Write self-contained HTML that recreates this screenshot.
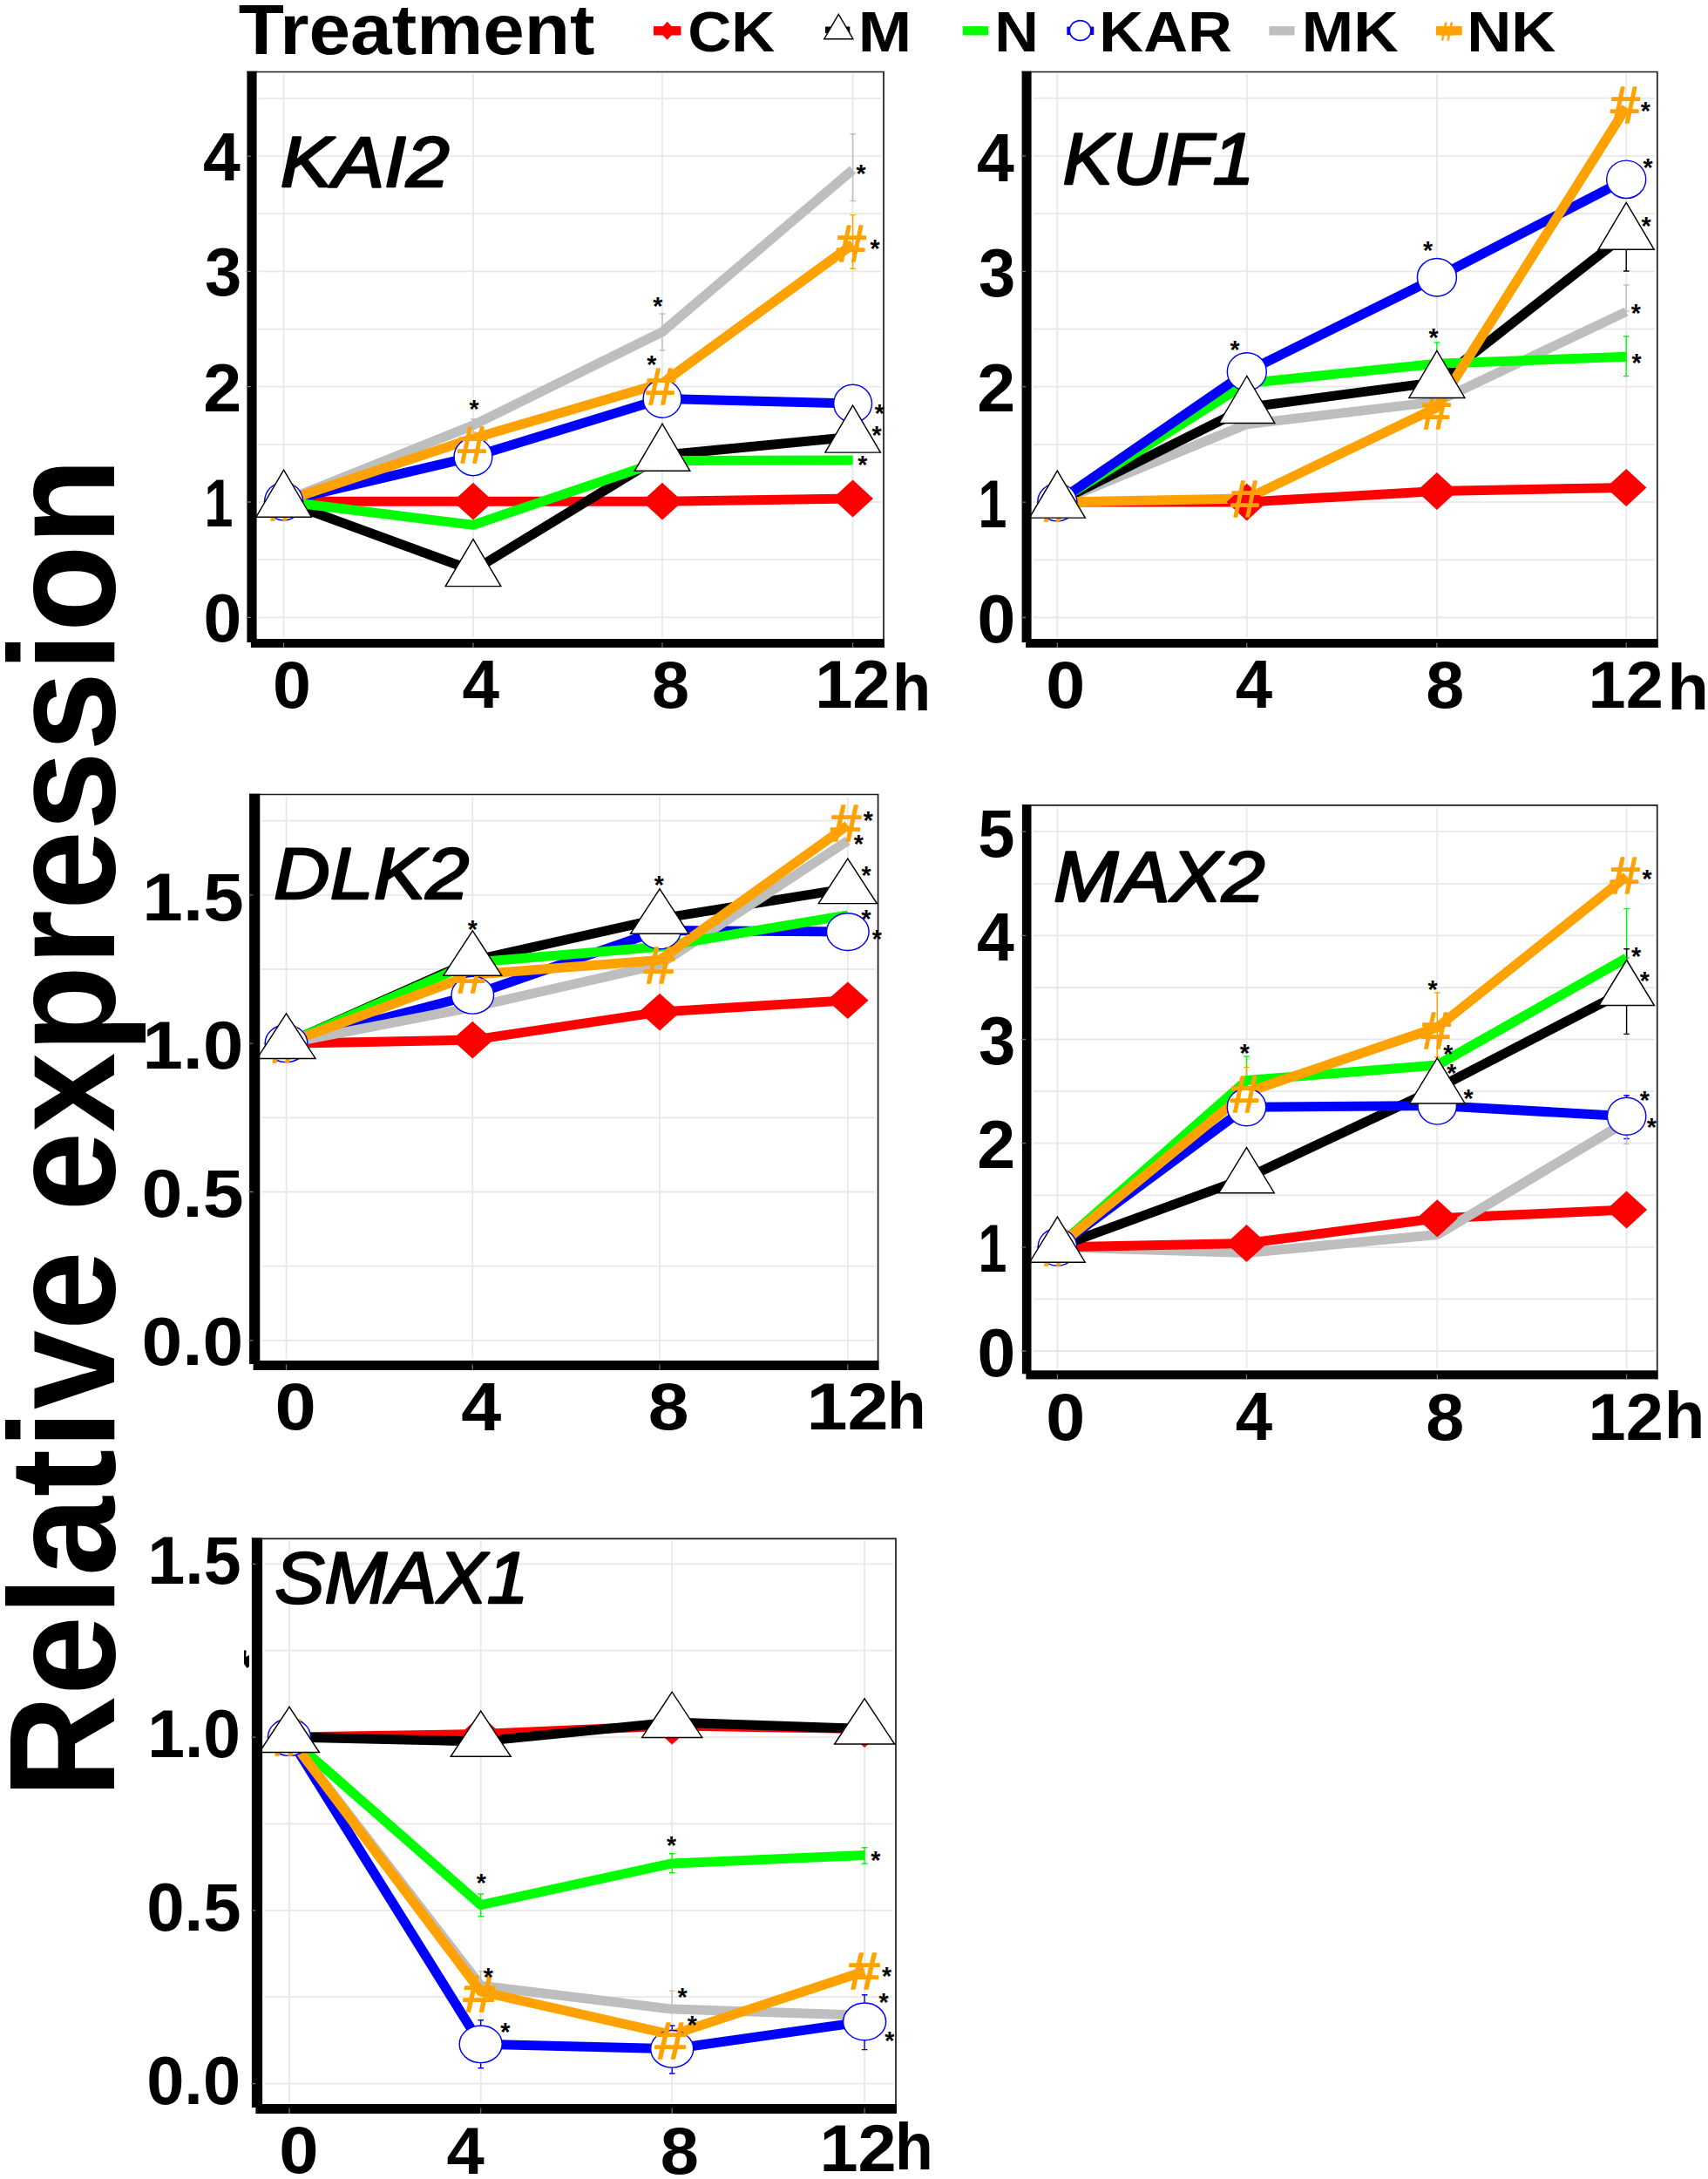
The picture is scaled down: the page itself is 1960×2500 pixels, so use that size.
<!DOCTYPE html><html><head><meta charset="utf-8"><title>Relative expression</title><style>html,body{margin:0;padding:0;background:#fff}svg{display:block}text{font-family:"Liberation Sans",sans-serif}</style></head><body>
<svg width="1960" height="2500" viewBox="0 0 1960 2500">
<rect width="1960" height="2500" fill="#fff"/>
<text transform="translate(131.4,2063.1) rotate(-90) scale(0.9464,1)" font-size="173" font-weight="bold">Relative expression</text>
<text transform="translate(273.74,62.40) scale(1.0407,1)" font-size="82.18" font-weight="bold">Treatment</text>
<line x1="750" x2="781.5" y1="35.3" y2="35.3" stroke="#ff0000" stroke-width="10.4"/>
<polygon points="765.7,24.8 775.2,35.3 765.7,45.8 756.2,35.3" fill="#ff0000"/>
<text transform="translate(789.23,59.00) scale(1.0569,1)" font-size="65.52" font-weight="bold">CK</text>
<line x1="947" x2="975.3" y1="34.3" y2="34.3" stroke="#000000" stroke-width="7.6"/>
<polygon points="962.3,16.4 945.8,44.7 978.9,44.7" fill="#fff" stroke="#000" stroke-width="1.5"/>
<text transform="translate(984.82,59.00) scale(1.1262,1)" font-size="65.45" font-weight="bold">M</text>
<line x1="1104.8" x2="1134.2" y1="35.3" y2="35.3" stroke="#00ff00" stroke-width="10.4"/>
<text transform="translate(1141.27,59.00) scale(1.0714,1)" font-size="65.45" font-weight="bold">N</text>
<line x1="1224.3" x2="1255.3" y1="35.3" y2="35.3" stroke="#0000ff" stroke-width="9.5"/>
<ellipse cx="1239.6" cy="35.0" rx="12.2" ry="11.4" fill="#fff" stroke="#0000ff" stroke-width="1.6"/>
<text transform="translate(1261.24,59.00) scale(1.0773,1)" font-size="65.45" font-weight="bold">KAR</text>
<line x1="1456.4" x2="1485.6" y1="35.3" y2="35.3" stroke="#bebebe" stroke-width="10.4"/>
<text transform="translate(1493.78,59.00) scale(1.0899,1)" font-size="65.45" font-weight="bold">MK</text>
<line x1="1647.8" x2="1677.7" y1="35.3" y2="35.3" stroke="#ffa200" stroke-width="10.4"/>
<text transform="translate(1652.86,45.80) scale(0.9958,1)" font-size="28.61" fill="#ffa200" stroke="#ffa200" stroke-width="0.9" stroke-linejoin="round">#</text>
<text transform="translate(1683.22,59.00) scale(1.0815,1)" font-size="65.45" font-weight="bold">NK</text>
<path d="M296.6,708.3H1011.0M296.6,642.1H1011.0M296.6,576.0H1011.0M296.6,509.8H1011.0M296.6,443.7H1011.0M296.6,377.6H1011.0M296.6,311.4H1011.0M296.6,245.2H1011.0M296.6,179.1H1011.0M296.6,112.9H1011.0M325.6,85.0V731.0M543.0,85.0V731.0M760.0,85.0V731.0M978.6,85.0V731.0" stroke="#e8e8e8" stroke-width="1.8" fill="none"/>
<path d="M283.4,82.5H1014V743" fill="none" stroke="#1a1a1a" stroke-width="1.7"/>
<path d="M978.6,153.7V230.5M975.4,153.7h6.5M975.4,230.5h6.5" stroke="#bebebe" stroke-width="1.4" fill="none"/>
<path d="M978.6,246.6V308.2M975.4,246.6h6.5M975.4,308.2h6.5" stroke="#ffa200" stroke-width="1.4" fill="none"/>
<path d="M760.0,360.0V402.0M756.8,360.0h6.5M756.8,402.0h6.5" stroke="#bebebe" stroke-width="1.4" fill="none"/>
<path d="M543.0,481.0V496.0M539.8,481.0h6.5M539.8,496.0h6.5" stroke="#bebebe" stroke-width="1.4" fill="none"/>
<polyline points="325.6,575.2 543.0,575.2 760.0,575.2 978.6,572.0" fill="none" stroke="#ff0000" stroke-width="11" stroke-linejoin="round"/>
<polyline points="325.6,575.2 543.0,654.6 760.0,522.3 978.6,501.1" fill="none" stroke="#000000" stroke-width="11" stroke-linejoin="round"/>
<polyline points="325.6,575.2 543.0,524.0 760.0,457.5 978.6,463.0" fill="none" stroke="#0000ff" stroke-width="11" stroke-linejoin="round"/>
<polyline points="325.6,575.2 543.0,487.9 760.0,380.7 978.6,194.7" fill="none" stroke="#bebebe" stroke-width="11" stroke-linejoin="round"/>
<polyline points="325.6,575.2 543.0,602.3 760.0,528.6 978.6,528.0" fill="none" stroke="#00ff00" stroke-width="11" stroke-linejoin="round"/>
<polyline points="325.6,575.2 543.0,503.0 760.0,439.6 978.6,280.2" fill="none" stroke="#ffa200" stroke-width="11" stroke-linejoin="round"/>
<polygon points="325.6,553.8 348.9,575.2 325.6,596.6 302.3,575.2" fill="#ff0000"/>
<polygon points="543.0,553.8 566.3,575.2 543.0,596.6 519.7,575.2" fill="#ff0000"/>
<polygon points="760.0,553.8 783.3,575.2 760.0,596.6 736.7,575.2" fill="#ff0000"/>
<polygon points="978.6,550.6 1001.9,572.0 978.6,593.4 955.3,572.0" fill="#ff0000"/>
<ellipse cx="325.6" cy="575.2" rx="21.9" ry="21.7" fill="#fff" stroke="#0000ff" stroke-width="1.45"/>
<ellipse cx="543.0" cy="524.0" rx="21.9" ry="21.7" fill="#fff" stroke="#0000ff" stroke-width="1.45"/>
<ellipse cx="760.0" cy="457.5" rx="21.9" ry="21.7" fill="#fff" stroke="#0000ff" stroke-width="1.45"/>
<ellipse cx="978.6" cy="463.0" rx="21.9" ry="21.7" fill="#fff" stroke="#0000ff" stroke-width="1.45"/>
<text transform="translate(307.40,596.65) scale(1.0034,1)" font-size="59.71" fill="#ffa200" stroke="#ffa200" stroke-width="1.7" stroke-linejoin="round">#</text>
<text transform="translate(525.50,531.45) scale(1.0034,1)" font-size="59.71" fill="#ffa200" stroke="#ffa200" stroke-width="1.7" stroke-linejoin="round">#</text>
<text transform="translate(741.60,463.75) scale(1.0034,1)" font-size="59.71" fill="#ffa200" stroke="#ffa200" stroke-width="1.7" stroke-linejoin="round">#</text>
<text transform="translate(960.30,300.45) scale(1.0034,1)" font-size="59.71" fill="#ffa200" stroke="#ffa200" stroke-width="1.7" stroke-linejoin="round">#</text>
<polygon points="325.6,539.2 293.9,593.2 357.4,593.2" fill="#fff" stroke="#000" stroke-width="1.45"/>
<polygon points="543.0,618.6 511.2,672.6 574.8,672.6" fill="#fff" stroke="#000" stroke-width="1.45"/>
<polygon points="760.0,486.3 728.2,540.3 791.8,540.3" fill="#fff" stroke="#000" stroke-width="1.45"/>
<polygon points="978.6,465.1 946.9,519.1 1010.4,519.1" fill="#fff" stroke="#000" stroke-width="1.45"/>
<text transform="translate(742.23,428.20) scale(0.9675,1)" font-size="29.53" font-weight="bold">*</text>
<text transform="translate(1003.83,484.40) scale(0.9675,1)" font-size="29.53" font-weight="bold">*</text>
<text transform="translate(1000.43,508.80) scale(0.9675,1)" font-size="29.53" font-weight="bold">*</text>
<text transform="translate(984.13,543.40) scale(0.9675,1)" font-size="29.53" font-weight="bold">*</text>
<text transform="translate(982.43,208.80) scale(0.9675,1)" font-size="29.53" font-weight="bold">*</text>
<text transform="translate(998.43,294.80) scale(0.9675,1)" font-size="29.53" font-weight="bold">*</text>
<text transform="translate(538.43,478.80) scale(0.9675,1)" font-size="29.53" font-weight="bold">*</text>
<text transform="translate(749.23,361.00) scale(0.9675,1)" font-size="29.53" font-weight="bold">*</text>
<rect x="283.4" y="81.7" width="11.200000000000045" height="655.3"/>
<rect x="287.9" y="733" width="726.9" height="10"/>
<path d="M282.6,179.1h5.2M282.6,311.4h5.2M282.6,443.7h5.2M282.6,576.0h5.2M282.6,708.3h5.2M325.6,737.5V743.3M543.0,737.5V743.3M760.0,737.5V743.3M978.6,737.5V743.3" stroke="#6e6e6e" stroke-width="1.3" fill="none"/>
<text transform="translate(233.04,206.90) scale(0.9886,1)" font-size="77.90" font-weight="bold">4</text>
<text transform="translate(234.89,339.20) scale(0.9754,1)" font-size="77.90" font-weight="bold">3</text>
<text transform="translate(233.14,471.50) scale(1.0137,1)" font-size="77.90" font-weight="bold">2</text>
<text transform="translate(234.40,603.80) scale(0.7592,1)" font-size="77.90" font-weight="bold">1</text>
<text transform="translate(233.45,736.10) scale(1.0107,1)" font-size="77.90" font-weight="bold">0</text>
<text transform="translate(313.04,812.10) scale(1.0293,1)" font-size="76.70" font-weight="bold">0</text>
<text transform="translate(530.55,812.30) scale(0.9861,1)" font-size="77.53" font-weight="bold">4</text>
<text transform="translate(747.89,812.10) scale(1.0086,1)" font-size="76.70" font-weight="bold">8</text>
<text transform="translate(935.14,812.30) scale(1.0095,1)" font-size="76.99" font-weight="bold">12</text>
<text transform="translate(1023.94,815.00) scale(0.9564,1)" font-size="75.59" font-weight="bold">h</text>
<text transform="translate(321.72,213.50) scale(1.1083,1)" font-size="80.72" font-style="italic" stroke="#000" stroke-width="2.4" stroke-linejoin="round">KAI2</text>
<path d="M1185.6,708.5H1898.8M1185.6,642.3H1898.8M1185.6,576.1H1898.8M1185.6,509.9H1898.8M1185.6,443.7H1898.8M1185.6,377.5H1898.8M1185.6,311.3H1898.8M1185.6,245.1H1898.8M1185.6,178.9H1898.8M1185.6,112.7H1898.8M1213.3,85.0V731.0M1430.8,85.0V731.0M1648.9,85.0V731.0M1866.2,85.0V731.0" stroke="#e8e8e8" stroke-width="1.8" fill="none"/>
<path d="M1172.6,82.5H1901.8V743" fill="none" stroke="#1a1a1a" stroke-width="1.7"/>
<path d="M1866.2,386.0V431.6M1863.0,386.0h6.5M1863.0,431.6h6.5" stroke="#00ff00" stroke-width="1.4" fill="none"/>
<path d="M1866.2,286.0V311.0M1863.0,286.0h6.5M1863.0,311.0h6.5" stroke="#000000" stroke-width="1.4" fill="none"/>
<path d="M1866.2,327.0V357.0M1863.0,327.0h6.5M1863.0,357.0h6.5" stroke="#bebebe" stroke-width="1.4" fill="none"/>
<path d="M1648.9,393.0V417.0M1645.7,393.0h6.5M1645.7,417.0h6.5" stroke="#00ff00" stroke-width="1.4" fill="none"/>
<polyline points="1213.3,576.1 1430.8,576.1 1648.9,563.5 1866.2,559.5" fill="none" stroke="#ff0000" stroke-width="11" stroke-linejoin="round"/>
<polyline points="1213.3,576.1 1430.8,486.7 1648.9,460.9 1866.2,357.6" fill="none" stroke="#bebebe" stroke-width="11" stroke-linejoin="round"/>
<polyline points="1213.3,576.1 1430.8,467.5 1648.9,438.4 1866.2,268.3" fill="none" stroke="#000000" stroke-width="11" stroke-linejoin="round"/>
<polyline points="1213.3,576.1 1430.8,439.7 1648.9,417.2 1866.2,409.3" fill="none" stroke="#00ff00" stroke-width="11" stroke-linejoin="round"/>
<polyline points="1213.3,576.1 1430.8,426.5 1648.9,318.2 1866.2,205.8" fill="none" stroke="#0000ff" stroke-width="11" stroke-linejoin="round"/>
<polyline points="1213.3,576.1 1430.8,572.1 1648.9,467.5 1866.2,123.3" fill="none" stroke="#ffa200" stroke-width="11" stroke-linejoin="round"/>
<polygon points="1213.3,554.7 1236.6,576.1 1213.3,597.5 1190.0,576.1" fill="#ff0000"/>
<polygon points="1430.8,554.7 1454.1,576.1 1430.8,597.5 1407.5,576.1" fill="#ff0000"/>
<polygon points="1648.9,542.1 1672.2,563.5 1648.9,584.9 1625.6,563.5" fill="#ff0000"/>
<polygon points="1866.2,538.1 1889.5,559.5 1866.2,580.9 1842.9,559.5" fill="#ff0000"/>
<ellipse cx="1213.3" cy="576.1" rx="22.5" ry="21.7" fill="#fff" stroke="#0000ff" stroke-width="1.45"/>
<ellipse cx="1430.8" cy="426.5" rx="22.5" ry="21.7" fill="#fff" stroke="#0000ff" stroke-width="1.45"/>
<ellipse cx="1648.9" cy="318.2" rx="22.5" ry="21.7" fill="#fff" stroke="#0000ff" stroke-width="1.45"/>
<ellipse cx="1866.2" cy="205.8" rx="22.5" ry="21.7" fill="#fff" stroke="#0000ff" stroke-width="1.45"/>
<text transform="translate(1195.10,597.55) scale(1.0034,1)" font-size="59.71" fill="#ffa200" stroke="#ffa200" stroke-width="1.7" stroke-linejoin="round">#</text>
<text transform="translate(1412.60,592.95) scale(1.0034,1)" font-size="59.71" fill="#ffa200" stroke="#ffa200" stroke-width="1.7" stroke-linejoin="round">#</text>
<text transform="translate(1631.10,492.45) scale(1.0034,1)" font-size="59.71" fill="#ffa200" stroke="#ffa200" stroke-width="1.7" stroke-linejoin="round">#</text>
<text transform="translate(1848.30,141.45) scale(1.0034,1)" font-size="59.71" fill="#ffa200" stroke="#ffa200" stroke-width="1.7" stroke-linejoin="round">#</text>
<polygon points="1213.3,540.1 1181.3,594.1 1245.3,594.1" fill="#fff" stroke="#000" stroke-width="1.45"/>
<polygon points="1430.8,431.5 1398.8,485.5 1462.8,485.5" fill="#fff" stroke="#000" stroke-width="1.45"/>
<polygon points="1648.9,402.4 1616.9,456.4 1680.9,456.4" fill="#fff" stroke="#000" stroke-width="1.45"/>
<polygon points="1866.2,232.3 1834.2,286.3 1898.2,286.3" fill="#fff" stroke="#000" stroke-width="1.45"/>
<text transform="translate(1411.43,410.80) scale(0.9675,1)" font-size="29.53" font-weight="bold">*</text>
<text transform="translate(1632.93,297.30) scale(0.9675,1)" font-size="29.53" font-weight="bold">*</text>
<text transform="translate(1639.43,396.80) scale(0.9675,1)" font-size="29.53" font-weight="bold">*</text>
<text transform="translate(1882.73,136.80) scale(0.9675,1)" font-size="29.53" font-weight="bold">*</text>
<text transform="translate(1885.43,202.40) scale(0.9675,1)" font-size="29.53" font-weight="bold">*</text>
<text transform="translate(1883.43,268.80) scale(0.9675,1)" font-size="29.53" font-weight="bold">*</text>
<text transform="translate(1871.73,368.80) scale(0.9675,1)" font-size="29.53" font-weight="bold">*</text>
<text transform="translate(1872.43,425.80) scale(0.9675,1)" font-size="29.53" font-weight="bold">*</text>
<rect x="1172.6" y="81.7" width="11.0" height="655.3"/>
<rect x="1177.1" y="733" width="725.5" height="10"/>
<path d="M1171.8,178.9h5.2M1171.8,311.3h5.2M1171.8,443.7h5.2M1171.8,576.1h5.2M1171.8,708.5h5.2M1213.3,737.5V743.3M1430.8,737.5V743.3M1648.9,737.5V743.3M1866.2,737.5V743.3" stroke="#6e6e6e" stroke-width="1.3" fill="none"/>
<text transform="translate(1121.04,207.50) scale(0.9886,1)" font-size="77.90" font-weight="bold">4</text>
<text transform="translate(1122.89,339.90) scale(0.9754,1)" font-size="77.90" font-weight="bold">3</text>
<text transform="translate(1121.14,472.30) scale(1.0137,1)" font-size="77.90" font-weight="bold">2</text>
<text transform="translate(1122.40,604.70) scale(0.7592,1)" font-size="77.90" font-weight="bold">1</text>
<text transform="translate(1121.45,737.10) scale(1.0107,1)" font-size="77.90" font-weight="bold">0</text>
<text transform="translate(1200.37,811.60) scale(1.0579,1)" font-size="76.42" font-weight="bold">0</text>
<text transform="translate(1417.86,811.80) scale(0.9874,1)" font-size="77.24" font-weight="bold">4</text>
<text transform="translate(1636.13,811.60) scale(1.0336,1)" font-size="76.42" font-weight="bold">8</text>
<text transform="translate(1822.55,811.80) scale(1.0107,1)" font-size="76.70" font-weight="bold">12</text>
<text transform="translate(1913.33,814.00) scale(1.0431,1)" font-size="74.90" font-weight="bold">h</text>
<text transform="translate(1219.52,210.80) scale(1.0362,1)" font-size="83.05" font-style="italic" stroke="#000" stroke-width="2.4" stroke-linejoin="round">KUF1</text>
<path d="M300.3,1537.8H1004.6M300.3,1452.6H1004.6M300.3,1367.5H1004.6M300.3,1282.3H1004.6M300.3,1197.2H1004.6M300.3,1112.0H1004.6M300.3,1026.9H1004.6M300.3,941.7H1004.6M328.5,914.0V1559.0M542.3,914.0V1559.0M757.0,914.0V1559.0M972.8,914.0V1559.0" stroke="#e8e8e8" stroke-width="1.8" fill="none"/>
<path d="M286.1,911.5H1007.6V1572" fill="none" stroke="#1a1a1a" stroke-width="1.7"/>
<polyline points="328.5,1197.2 542.3,1193.1 757.0,1161.1 972.8,1147.8" fill="none" stroke="#ff0000" stroke-width="11" stroke-linejoin="round"/>
<polyline points="328.5,1197.2 542.3,1102.2 757.0,1054.1 972.8,1019.4" fill="none" stroke="#000000" stroke-width="11" stroke-linejoin="round"/>
<polyline points="328.5,1197.2 542.3,1141.7 757.0,1067.4 972.8,1069.1" fill="none" stroke="#0000ff" stroke-width="11" stroke-linejoin="round"/>
<polyline points="328.5,1197.2 542.3,1155.6 757.0,1106.6 972.8,964.6" fill="none" stroke="#bebebe" stroke-width="11" stroke-linejoin="round"/>
<polyline points="328.5,1197.2 542.3,1104.2 757.0,1086.2 972.8,1049.9" fill="none" stroke="#00ff00" stroke-width="11" stroke-linejoin="round"/>
<polyline points="328.5,1197.2 542.3,1118.2 757.0,1101.5 972.8,946.9" fill="none" stroke="#ffa200" stroke-width="11" stroke-linejoin="round"/>
<polygon points="328.5,1175.9 352.3,1197.2 328.5,1218.5 304.7,1197.2" fill="#ff0000"/>
<polygon points="542.3,1171.8 566.1,1193.1 542.3,1214.4 518.5,1193.1" fill="#ff0000"/>
<polygon points="757.0,1139.8 780.8,1161.1 757.0,1182.4 733.2,1161.1" fill="#ff0000"/>
<polygon points="972.8,1126.5 996.6,1147.8 972.8,1169.1 949.0,1147.8" fill="#ff0000"/>
<ellipse cx="328.5" cy="1197.2" rx="24.3" ry="21.4" fill="#fff" stroke="#0000ff" stroke-width="1.45"/>
<ellipse cx="542.3" cy="1141.7" rx="24.3" ry="21.4" fill="#fff" stroke="#0000ff" stroke-width="1.45"/>
<ellipse cx="757.0" cy="1067.4" rx="24.3" ry="21.4" fill="#fff" stroke="#0000ff" stroke-width="1.45"/>
<ellipse cx="972.8" cy="1069.1" rx="24.3" ry="21.4" fill="#fff" stroke="#0000ff" stroke-width="1.45"/>
<text transform="translate(309.54,1218.50) scale(1.0570,1)" font-size="59.27" fill="#ffa200" stroke="#ffa200" stroke-width="1.7" stroke-linejoin="round">#</text>
<text transform="translate(522.54,1139.30) scale(1.0570,1)" font-size="59.27" fill="#ffa200" stroke="#ffa200" stroke-width="1.7" stroke-linejoin="round">#</text>
<text transform="translate(739.04,1127.60) scale(1.0570,1)" font-size="59.27" fill="#ffa200" stroke="#ffa200" stroke-width="1.7" stroke-linejoin="round">#</text>
<text transform="translate(953.14,965.30) scale(1.0570,1)" font-size="59.27" fill="#ffa200" stroke="#ffa200" stroke-width="1.7" stroke-linejoin="round">#</text>
<polygon points="328.5,1162.9 295.0,1214.4 362.0,1214.4" fill="#fff" stroke="#000" stroke-width="1.45"/>
<polygon points="542.3,1067.8 508.8,1119.3 575.8,1119.3" fill="#fff" stroke="#000" stroke-width="1.45"/>
<polygon points="757.0,1019.8 723.5,1071.3 790.5,1071.3" fill="#fff" stroke="#000" stroke-width="1.45"/>
<polygon points="972.8,985.1 939.3,1036.6 1006.3,1036.6" fill="#fff" stroke="#000" stroke-width="1.45"/>
<text transform="translate(750.73,1024.80) scale(0.9675,1)" font-size="29.53" font-weight="bold">*</text>
<text transform="translate(990.73,951.10) scale(0.9675,1)" font-size="29.53" font-weight="bold">*</text>
<text transform="translate(979.73,978.00) scale(0.9675,1)" font-size="29.53" font-weight="bold">*</text>
<text transform="translate(988.43,1014.30) scale(0.9675,1)" font-size="29.53" font-weight="bold">*</text>
<text transform="translate(988.43,1063.50) scale(0.9675,1)" font-size="29.53" font-weight="bold">*</text>
<text transform="translate(1000.83,1086.90) scale(0.9675,1)" font-size="29.53" font-weight="bold">*</text>
<text transform="translate(536.73,1076.20) scale(0.9675,1)" font-size="29.53" font-weight="bold">*</text>
<rect x="286.1" y="910.7" width="12.199999999999989" height="654.3"/>
<rect x="290.6" y="1561" width="717.8" height="11"/>
<path d="M285.3,1026.9h5.2M285.3,1197.2h5.2M285.3,1367.5h5.2M285.3,1537.8h5.2M328.5,1565.5V1572.3M542.3,1565.5V1572.3M757.0,1565.5V1572.3M972.8,1565.5V1572.3" stroke="#6e6e6e" stroke-width="1.3" fill="none"/>
<text transform="translate(163.37,1055.50) scale(1.0744,1)" font-size="77.90" font-weight="bold">1.5</text>
<text transform="translate(163.39,1225.80) scale(1.0708,1)" font-size="77.90" font-weight="bold">1.0</text>
<text transform="translate(162.42,1396.10) scale(1.0833,1)" font-size="77.90" font-weight="bold">0.5</text>
<text transform="translate(162.44,1566.40) scale(1.0799,1)" font-size="77.90" font-weight="bold">0.0</text>
<text transform="translate(315.60,1640.30) scale(1.1089,1)" font-size="76.70" font-weight="bold">0</text>
<text transform="translate(529.26,1640.50) scale(1.0681,1)" font-size="77.53" font-weight="bold">4</text>
<text transform="translate(743.67,1640.30) scale(1.0959,1)" font-size="76.70" font-weight="bold">8</text>
<text transform="translate(925.41,1640.40) scale(1.1016,1)" font-size="76.85" font-weight="bold">12</text>
<text transform="translate(1018.08,1639.00) scale(0.9639,1)" font-size="75.86" font-weight="bold">h</text>
<text transform="translate(314.11,1031.10) scale(1.0818,1)" font-size="82.87" font-style="italic" stroke="#000" stroke-width="2.4" stroke-linejoin="round">DLK2</text>
<path d="M1185.5,1550.0H1898.7M1185.5,1490.4H1898.7M1185.5,1430.8H1898.7M1185.5,1371.3H1898.7M1185.5,1311.7H1898.7M1185.5,1252.1H1898.7M1185.5,1192.5H1898.7M1185.5,1133.0H1898.7M1185.5,1073.4H1898.7M1185.5,1013.8H1898.7M1185.5,954.2H1898.7M1213.4,926.4V1570.3M1430.5,926.4V1570.3M1649.3,926.4V1570.3M1866.6,926.4V1570.3" stroke="#e8e8e8" stroke-width="1.8" fill="none"/>
<path d="M1172.9,923.9H1901.7V1582.4" fill="none" stroke="#1a1a1a" stroke-width="1.7"/>
<path d="M1430.5,1212.0V1240.0M1427.2,1212.0h6.5M1427.2,1240.0h6.5" stroke="#00ff00" stroke-width="1.4" fill="none"/>
<path d="M1430.5,1224.4V1250.0M1427.2,1224.4h6.5M1427.2,1250.0h6.5" stroke="#ffa200" stroke-width="1.4" fill="none"/>
<path d="M1866.6,1042.6V1099.0M1863.3,1042.6h6.5M1863.3,1099.0h6.5" stroke="#00ff00" stroke-width="1.4" fill="none"/>
<path d="M1866.6,1088.7V1186.4M1863.3,1088.7h6.5M1863.3,1186.4h6.5" stroke="#000000" stroke-width="1.4" fill="none"/>
<path d="M1649.3,1139.0V1212.8M1646.0,1139.0h6.5M1646.0,1212.8h6.5" stroke="#ffa200" stroke-width="1.4" fill="none"/>
<path d="M1866.6,1256.8V1306.5M1863.3,1256.8h6.5M1863.3,1306.5h6.5" stroke="#0000ff" stroke-width="1.4" fill="none"/>
<path d="M1866.6,1290.0V1312.3M1863.3,1290.0h6.5M1863.3,1312.3h6.5" stroke="#bebebe" stroke-width="1.4" fill="none"/>
<polyline points="1213.4,1430.8 1430.5,1437.5 1649.3,1416.6 1866.6,1286.7" fill="none" stroke="#bebebe" stroke-width="11" stroke-linejoin="round"/>
<polyline points="1213.4,1430.8 1430.5,1426.5 1649.3,1397.8 1866.6,1388.0" fill="none" stroke="#ff0000" stroke-width="11" stroke-linejoin="round"/>
<polyline points="1649.3,1416.6 1866.6,1286.7" fill="none" stroke="#bebebe" stroke-width="11" stroke-linejoin="round"/>
<polyline points="1213.4,1430.8 1430.5,1351.4 1649.3,1248.6 1866.6,1136.2" fill="none" stroke="#000000" stroke-width="11" stroke-linejoin="round"/>
<polyline points="1213.4,1430.8 1430.5,1270.2 1649.3,1268.6 1866.6,1280.7" fill="none" stroke="#0000ff" stroke-width="11" stroke-linejoin="round"/>
<polyline points="1213.4,1430.8 1430.5,1239.6 1649.3,1222.1 1866.6,1099.1" fill="none" stroke="#00ff00" stroke-width="11" stroke-linejoin="round"/>
<polyline points="1213.4,1430.8 1430.5,1253.3 1649.3,1178.7 1866.6,1005.5" fill="none" stroke="#ffa200" stroke-width="11" stroke-linejoin="round"/>
<polygon points="1213.4,1409.2 1236.9,1430.8 1213.4,1452.4 1189.9,1430.8" fill="#ff0000"/>
<polygon points="1430.5,1404.9 1454.0,1426.5 1430.5,1448.1 1407.0,1426.5" fill="#ff0000"/>
<polygon points="1649.3,1376.2 1672.8,1397.8 1649.3,1419.4 1625.8,1397.8" fill="#ff0000"/>
<polygon points="1866.6,1366.4 1890.1,1388.0 1866.6,1409.6 1843.1,1388.0" fill="#ff0000"/>
<ellipse cx="1213.4" cy="1430.8" rx="22.2" ry="21.5" fill="#fff" stroke="#0000ff" stroke-width="1.45"/>
<ellipse cx="1430.5" cy="1270.2" rx="22.2" ry="21.5" fill="#fff" stroke="#0000ff" stroke-width="1.45"/>
<ellipse cx="1649.3" cy="1268.6" rx="22.2" ry="21.5" fill="#fff" stroke="#0000ff" stroke-width="1.45"/>
<ellipse cx="1866.6" cy="1280.7" rx="22.2" ry="21.5" fill="#fff" stroke="#0000ff" stroke-width="1.45"/>
<text transform="translate(1195.20,1452.30) scale(1.0034,1)" font-size="59.71" fill="#ffa200" stroke="#ffa200" stroke-width="1.7" stroke-linejoin="round">#</text>
<text transform="translate(1412.00,1276.45) scale(1.0034,1)" font-size="59.71" fill="#ffa200" stroke="#ffa200" stroke-width="1.7" stroke-linejoin="round">#</text>
<text transform="translate(1631.20,1202.85) scale(1.0034,1)" font-size="59.71" fill="#ffa200" stroke="#ffa200" stroke-width="1.7" stroke-linejoin="round">#</text>
<text transform="translate(1848.10,1024.85) scale(1.0034,1)" font-size="59.71" fill="#ffa200" stroke="#ffa200" stroke-width="1.7" stroke-linejoin="round">#</text>
<polygon points="1213.4,1396.2 1181.6,1448.2 1245.2,1448.2" fill="#fff" stroke="#000" stroke-width="1.45"/>
<polygon points="1430.5,1316.7 1398.7,1368.7 1462.3,1368.7" fill="#fff" stroke="#000" stroke-width="1.45"/>
<polygon points="1649.3,1213.9 1617.5,1265.9 1681.1,1265.9" fill="#fff" stroke="#000" stroke-width="1.45"/>
<polygon points="1866.6,1101.5 1834.8,1153.5 1898.4,1153.5" fill="#fff" stroke="#000" stroke-width="1.45"/>
<text transform="translate(1422.63,1218.10) scale(0.9675,1)" font-size="29.53" font-weight="bold">*</text>
<text transform="translate(1638.53,1145.00) scale(0.9675,1)" font-size="29.53" font-weight="bold">*</text>
<text transform="translate(1656.13,1219.40) scale(0.9675,1)" font-size="29.53" font-weight="bold">*</text>
<text transform="translate(1660.13,1241.30) scale(0.9675,1)" font-size="29.53" font-weight="bold">*</text>
<text transform="translate(1679.53,1270.20) scale(0.9675,1)" font-size="29.53" font-weight="bold">*</text>
<text transform="translate(1884.43,1018.00) scale(0.9675,1)" font-size="29.53" font-weight="bold">*</text>
<text transform="translate(1872.03,1107.00) scale(0.9675,1)" font-size="29.53" font-weight="bold">*</text>
<text transform="translate(1881.63,1134.70) scale(0.9675,1)" font-size="29.53" font-weight="bold">*</text>
<text transform="translate(1881.63,1272.10) scale(0.9675,1)" font-size="29.53" font-weight="bold">*</text>
<text transform="translate(1889.83,1303.00) scale(0.9675,1)" font-size="29.53" font-weight="bold">*</text>
<rect x="1172.9" y="923.1" width="10.599999999999909" height="653.1999999999999"/>
<rect x="1177.4" y="1572.3" width="725.0999999999999" height="10.100000000000136"/>
<path d="M1172.1,954.2h5.2M1172.1,1073.4h5.2M1172.1,1192.5h5.2M1172.1,1311.7h5.2M1172.1,1430.8h5.2M1172.1,1550.0h5.2M1213.4,1576.8V1582.7M1430.5,1576.8V1582.7M1649.3,1576.8V1582.7M1866.6,1576.8V1582.7" stroke="#6e6e6e" stroke-width="1.3" fill="none"/>
<text transform="translate(1122.32,982.85) scale(0.9754,1)" font-size="77.90" font-weight="bold">5</text>
<text transform="translate(1121.04,1102.00) scale(0.9886,1)" font-size="77.90" font-weight="bold">4</text>
<text transform="translate(1122.89,1221.15) scale(0.9754,1)" font-size="77.90" font-weight="bold">3</text>
<text transform="translate(1121.14,1340.30) scale(1.0137,1)" font-size="77.90" font-weight="bold">2</text>
<text transform="translate(1122.40,1459.45) scale(0.7592,1)" font-size="77.90" font-weight="bold">1</text>
<text transform="translate(1121.45,1578.60) scale(1.0107,1)" font-size="77.90" font-weight="bold">0</text>
<text transform="translate(1200.37,1651.60) scale(1.0579,1)" font-size="76.42" font-weight="bold">0</text>
<text transform="translate(1417.86,1651.80) scale(0.9874,1)" font-size="77.24" font-weight="bold">4</text>
<text transform="translate(1636.13,1651.60) scale(1.0336,1)" font-size="76.42" font-weight="bold">8</text>
<text transform="translate(1822.55,1651.80) scale(1.0107,1)" font-size="76.70" font-weight="bold">12</text>
<text transform="translate(1909.66,1650.30) scale(0.9997,1)" font-size="76.28" font-weight="bold">h</text>
<text transform="translate(1208.93,1034.20) scale(1.0828,1)" font-size="82.29" font-style="italic" stroke="#000" stroke-width="2.4" stroke-linejoin="round">MAX2</text>
<path d="M303.1,2390.6H1025.0M303.1,2291.2H1025.0M303.1,2191.8H1025.0M303.1,2092.5H1025.0M303.1,1993.1H1025.0M303.1,1893.7H1025.0M303.1,1794.3H1025.0M332.0,1767.8V2412.0M551.7,1767.8V2412.0M771.2,1767.8V2412.0M992.1,1767.8V2412.0" stroke="#e8e8e8" stroke-width="1.8" fill="none"/>
<path d="M288.9,1765.3H1028V2425" fill="none" stroke="#1a1a1a" stroke-width="1.7"/>
<path d="M551.7,2173.0V2198.8M548.5,2173.0h6.5M548.5,2198.8h6.5" stroke="#00ff00" stroke-width="1.4" fill="none"/>
<path d="M771.2,2126.7V2148.7M768.0,2126.7h6.5M768.0,2148.7h6.5" stroke="#00ff00" stroke-width="1.4" fill="none"/>
<path d="M992.1,2119.7V2138.2M988.9,2119.7h6.5M988.9,2138.2h6.5" stroke="#00ff00" stroke-width="1.4" fill="none"/>
<path d="M551.7,2317.8V2372.8M548.5,2317.8h6.5M548.5,2372.8h6.5" stroke="#0000ff" stroke-width="1.4" fill="none"/>
<path d="M771.2,2324.0V2379.0M768.0,2324.0h6.5M768.0,2379.0h6.5" stroke="#0000ff" stroke-width="1.4" fill="none"/>
<path d="M992.1,2288.8V2351.6M988.9,2288.8h6.5M988.9,2351.6h6.5" stroke="#0000ff" stroke-width="1.4" fill="none"/>
<path d="M771.2,2284.1V2305.0M768.0,2284.1h6.5M768.0,2305.0h6.5" stroke="#bebebe" stroke-width="1.4" fill="none"/>
<path d="M551.7,2261.6V2278.0M548.5,2261.6h6.5M548.5,2278.0h6.5" stroke="#bebebe" stroke-width="1.4" fill="none"/>
<polyline points="332.0,1993.1 551.7,1989.5 771.2,1980.0 992.1,1983.6" fill="none" stroke="#ff0000" stroke-width="11" stroke-linejoin="round"/>
<polyline points="332.0,1993.1 551.7,1997.9 771.2,1976.0 992.1,1983.6" fill="none" stroke="#000000" stroke-width="11" stroke-linejoin="round"/>
<polyline points="332.0,1993.1 551.7,2345.3 771.2,2350.8 992.1,2319.4" fill="none" stroke="#0000ff" stroke-width="11" stroke-linejoin="round"/>
<polyline points="332.0,1993.1 551.7,2278.1 771.2,2305.1 992.1,2312.3" fill="none" stroke="#bebebe" stroke-width="11" stroke-linejoin="round"/>
<polyline points="332.0,1993.1 551.7,2185.5 771.2,2137.9 992.1,2128.6" fill="none" stroke="#00ff00" stroke-width="11" stroke-linejoin="round"/>
<polyline points="332.0,1993.1 551.7,2285.0 771.2,2334.6 992.1,2261.8" fill="none" stroke="#ffa200" stroke-width="11" stroke-linejoin="round"/>
<polygon points="332.0,1971.7 356.0,1993.1 332.0,2014.5 308.0,1993.1" fill="#ff0000"/>
<polygon points="551.7,1968.1 575.7,1989.5 551.7,2010.9 527.7,1989.5" fill="#ff0000"/>
<polygon points="771.2,1958.6 795.2,1980.0 771.2,2001.4 747.2,1980.0" fill="#ff0000"/>
<polygon points="992.1,1962.2 1016.1,1983.6 992.1,2005.0 968.1,1983.6" fill="#ff0000"/>
<ellipse cx="332.0" cy="1993.1" rx="24.5" ry="21.3" fill="#fff" stroke="#0000ff" stroke-width="1.45"/>
<ellipse cx="551.7" cy="2345.3" rx="24.5" ry="21.3" fill="#fff" stroke="#0000ff" stroke-width="1.45"/>
<ellipse cx="771.2" cy="2350.8" rx="24.5" ry="21.3" fill="#fff" stroke="#0000ff" stroke-width="1.45"/>
<ellipse cx="992.1" cy="2319.4" rx="24.5" ry="21.3" fill="#fff" stroke="#0000ff" stroke-width="1.45"/>
<text transform="translate(312.37,2014.25) scale(1.1052,1)" font-size="58.83" fill="#ffa200" stroke="#ffa200" stroke-width="1.7" stroke-linejoin="round">#</text>
<text transform="translate(531.67,2307.55) scale(1.1052,1)" font-size="58.83" fill="#ffa200" stroke="#ffa200" stroke-width="1.7" stroke-linejoin="round">#</text>
<text transform="translate(751.67,2361.65) scale(1.1052,1)" font-size="58.83" fill="#ffa200" stroke="#ffa200" stroke-width="1.7" stroke-linejoin="round">#</text>
<text transform="translate(973.27,2282.05) scale(1.1052,1)" font-size="58.83" fill="#ffa200" stroke="#ffa200" stroke-width="1.7" stroke-linejoin="round">#</text>
<polygon points="332.0,1958.3 297.5,2010.5 366.5,2010.5" fill="#fff" stroke="#000" stroke-width="1.45"/>
<polygon points="551.7,1963.1 517.2,2015.3 586.2,2015.3" fill="#fff" stroke="#000" stroke-width="1.45"/>
<polygon points="771.2,1941.2 736.7,1993.4 805.7,1993.4" fill="#fff" stroke="#000" stroke-width="1.45"/>
<polygon points="992.1,1948.8 957.6,2001.0 1026.6,2001.0" fill="#fff" stroke="#000" stroke-width="1.45"/>
<text transform="translate(764.93,2126.80) scale(0.9675,1)" font-size="29.53" font-weight="bold">*</text>
<text transform="translate(999.13,2143.80) scale(0.9675,1)" font-size="29.53" font-weight="bold">*</text>
<text transform="translate(777.43,2301.30) scale(0.9675,1)" font-size="29.53" font-weight="bold">*</text>
<text transform="translate(788.63,2332.90) scale(0.9675,1)" font-size="29.53" font-weight="bold">*</text>
<text transform="translate(1012.03,2277.10) scale(0.9675,1)" font-size="29.53" font-weight="bold">*</text>
<text transform="translate(1008.53,2307.10) scale(0.9675,1)" font-size="29.53" font-weight="bold">*</text>
<text transform="translate(1015.13,2350.90) scale(0.9675,1)" font-size="29.53" font-weight="bold">*</text>
<text transform="translate(546.83,2170.30) scale(0.9675,1)" font-size="29.53" font-weight="bold">*</text>
<text transform="translate(554.73,2278.00) scale(0.9675,1)" font-size="29.53" font-weight="bold">*</text>
<text transform="translate(574.23,2341.30) scale(0.9675,1)" font-size="29.53" font-weight="bold">*</text>
<polygon points="280,1893.5 282.6,1893.5 282.2,1901 286,1899 286,1912 283.5,1914 280,1909"/>
<rect x="288.9" y="1764.5" width="12.200000000000045" height="653.5"/>
<rect x="293.4" y="2414" width="735.4" height="11"/>
<path d="M288.1,1794.3h5.2M288.1,1993.1h5.2M288.1,2191.8h5.2M288.1,2390.6h5.2M332.0,2418.5V2425.3M551.7,2418.5V2425.3M771.2,2418.5V2425.3M992.1,2418.5V2425.3" stroke="#6e6e6e" stroke-width="1.3" fill="none"/>
<text transform="translate(169.27,1817.35) scale(0.9924,1)" font-size="77.90" font-weight="bold">1.5</text>
<text transform="translate(169.30,2016.10) scale(0.9861,1)" font-size="77.90" font-weight="bold">1.0</text>
<text transform="translate(168.18,2214.85) scale(1.0027,1)" font-size="77.90" font-weight="bold">0.5</text>
<text transform="translate(168.19,2413.60) scale(0.9966,1)" font-size="77.90" font-weight="bold">0.0</text>
<text transform="translate(320.14,2493.40) scale(1.0662,1)" font-size="76.42" font-weight="bold">0</text>
<text transform="translate(512.43,2493.70) scale(1.0168,1)" font-size="76.65" font-weight="bold">4</text>
<text transform="translate(757.82,2493.60) scale(1.0350,1)" font-size="76.70" font-weight="bold">8</text>
<text transform="translate(940.44,2490.90) scale(1.0359,1)" font-size="76.56" font-weight="bold">12</text>
<text transform="translate(1027.08,2489.00) scale(0.9362,1)" font-size="76.55" font-weight="bold">h</text>
<text transform="translate(315.13,1839.00) scale(1.0343,1)" font-size="83.15" font-style="italic" stroke="#000" stroke-width="2.4" stroke-linejoin="round">SMAX1</text>
</svg></body></html>
